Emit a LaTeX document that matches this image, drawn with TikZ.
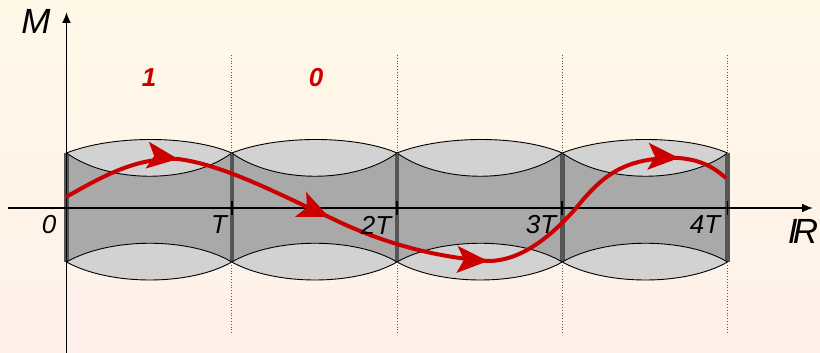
\documentclass[tikz,border=0pt]{standalone}
\usepackage{fontspec}
\setmainfont{Liberation Sans}
\usetikzlibrary{arrows.meta}
\definecolor{bgtop}{HTML}{FFF8E7}
\definecolor{bgbottom}{HTML}{FFF0E9}
\definecolor{tubegray}{HTML}{A9A9A9}
\definecolor{lensgray}{HTML}{D2D2D2}
\definecolor{bargray}{HTML}{555555}
\definecolor{pathred}{HTML}{CC0000}
\tikzset{
  tube/.style={fill=tubegray, draw=none},
  lens/.style={fill=lensgray, draw=black, line width=0.9pt},
  bar/.style={draw=bargray, line width=4.5pt},
  guide/.style={draw=black!65, line width=0.8pt, dotted},
  axis/.style={-{Latex[length=11pt,width=9pt]}, draw=black, line width=1.8pt},
  tick/.style={draw=black, line width=1.8pt},
  axislabel/.style={font=\fontsize{35}{35}\selectfont\itshape, inner sep=0pt},
  timelabel/.style={font=\fontsize{26}{26}\selectfont\itshape, inner sep=0pt},
  bitlabel/.style={font=\fontsize{26}{26}\selectfont\bfseries\itshape, text=pathred, inner sep=0pt},
  orbit/.style={draw=pathred, line width=4pt},
  orbittip/.style={draw=pathred, line width=1pt, -{Stealth[length=31pt,width=27pt,inset=7pt]}}
}
\begin{document}
\begin{tikzpicture}[x=1pt,y=-1pt]
\shade[top color=bgtop, bottom color=bgbottom] (0,0) rectangle (820,353);
\useasboundingbox (0,0) rectangle (820,353);
\fill[tube] (66.5,153) rectangle (727.5,262);
\foreach \x in {66.5,231.75,397,562.25,727.5}{
  \draw[bar] (\x,153) -- (\x,262);
}
% one cell per period
\foreach \i in {0,1,2,3}{
  \begin{scope}[xshift=\i*165.25pt]
    \draw[lens] (66.5,153) .. controls (112,135) and (190,135) .. (231.75,153)
      .. controls (190,184) and (110,184) .. cycle;
    \draw[lens] (66.5,262) .. controls (110,237) and (190,237) .. (231.75,262)
      .. controls (190,286) and (110,286) .. cycle;
  \end{scope}
}
\foreach \x in {231.75,397,562.25,727.5}{
  \draw[guide] (\x,55) -- (\x,335);
  \draw[tick] (\x,201) -- (\x,215);
}
\coordinate (xstart) at (8,208);
\coordinate (xend) at (813,208);
\coordinate (ystart) at (66.5,353);
\coordinate (yend) at (66.5,12);
\draw[axis] (xstart) -- (xend);
\draw[axis] (ystart) -- (yend);
\coordinate (start) at (66,197);
\coordinate (taila) at (170,158);
\coordinate (tipa) at (178,159);
\coordinate (tailb) at (320,213);
\coordinate (tipb) at (329,217);
\coordinate (tailc) at (478,260.5);
\coordinate (tipc) at (488,261);
\coordinate (cross) at (577,207);
\coordinate (taild) at (670,157.5);
\coordinate (tipd) at (679,158);
\coordinate (stop) at (726,178);
\draw[orbit] (start) .. controls (100,178) and (135,157) .. (tipa);
\draw[orbit] (tipa) .. controls (225,165) and (280,195) .. (tipb);
\draw[orbit] (tipb) .. controls (375,240) and (430,257) .. (tipc);
\draw[orbit] (tipc) .. controls (520,261) and (550,238) .. (cross);
\draw[orbit] (cross) .. controls (603,175) and (625,157) .. (tipd);
\draw[orbit] (tipd) .. controls (700,160) and (712,166) .. (stop);
\draw[orbittip] (taila) -- (tipa);
\draw[orbittip] (tailb) -- (tipb);
\draw[orbittip] (tailc) -- (tipc);
\draw[orbittip] (taild) -- (tipd);
\node[axislabel] (mlabel) at (36,21) {M};
\node[axislabel] (rlabel) at (803,231) {I\kern-0.13em R};
\node[timelabel] (zero) at (49,225) {0};
\node[timelabel] (one) at (219,225) {T};
\node[timelabel] (two) at (376,225) {2T};
\node[timelabel] (three) at (541,225) {3T};
\node[timelabel] (four) at (705,225) {4T};
\node[bitlabel] (bitone) at (149,78) {1};
\node[bitlabel] (bitzero) at (316,78) {0};
\end{tikzpicture}
\end{document}
